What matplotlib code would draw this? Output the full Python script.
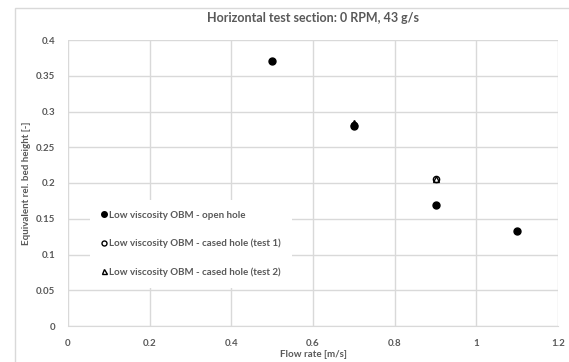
import matplotlib
matplotlib.use("Agg")
from matplotlib import pyplot as plt
from matplotlib.patches import Rectangle

# data
open_x = [0.5, 0.7, 0.9, 1.1]
open_y = [0.37, 0.28, 0.169, 0.133]
cased1_x = [0.7, 0.9]
cased1_y = [0.281, 0.206]
cased2_x = [0.7, 0.9]
cased2_y = [0.284, 0.205]

labels = ["Low viscosity OBM - open hole",
          "Low viscosity OBM - cased hole (test 1)",
          "Low viscosity OBM - cased hole (test 2)"]
x_ticks = [0, 0.2, 0.4, 0.6, 0.8, 1, 1.2]
y_ticks = [0, 0.05, 0.1, 0.15, 0.2, 0.25, 0.3, 0.35, 0.4]

plt.rcParams['font.family'] = ['Lato', 'DejaVu Sans']
text_col = '#595959'
grid_col = '#d9d9d9'

fig = plt.figure(figsize=(5.69, 3.62), dpi=100)
# outer chart frame
fig.patches.append(Rectangle((15 / 569, -0.01), 1.0, 1 - 8 / 362 + 0.01,
                             transform=fig.transFigure, fill=False,
                             edgecolor=grid_col, linewidth=1))
ax = fig.add_axes([68 / 569, 1 - 326 / 362, 490 / 569, 286 / 362])

ax.plot(open_x, open_y, 'o', color='black', markersize=5, label=labels[0],
        zorder=3)
ax.plot(cased1_x, cased1_y, 'o', markerfacecolor='none',
        markeredgecolor='black', markersize=4.5, markeredgewidth=1,
        label=labels[1], zorder=4)
ax.plot(cased2_x, cased2_y, '^', markerfacecolor='none',
        markeredgecolor='black', markersize=4.5, markeredgewidth=1,
        label=labels[2], zorder=4)

ax.set_xlim(0, 1.2)
ax.set_ylim(0, 0.4)
ax.set_xticks(x_ticks)
ax.set_xticklabels([str(t) for t in x_ticks])
ax.set_yticks(y_ticks)
ax.set_yticklabels([str(t) for t in y_ticks])
ax.grid(True, color=grid_col, linewidth=1)
ax.set_axisbelow(True)
for s in ['top', 'right', 'left']:
    ax.spines[s].set_visible(False)
ax.spines['bottom'].set_color(grid_col)
ax.tick_params(length=0, colors=text_col, labelsize=7, pad=9)
for lab in ax.get_xticklabels() + ax.get_yticklabels():
    lab.set_fontweight('bold')

ax.set_title("Horizontal test section: 0 RPM, 43 g/s", fontsize=9,
             fontweight='bold', color=text_col, pad=13)
ax.set_xlabel("Flow rate [m/s]", fontsize=7, fontweight='bold',
              color=text_col, labelpad=2)
ax.set_ylabel("Equivalent rel. bed height [-]", fontsize=7,
              fontweight='bold', color=text_col, labelpad=4)

leg = ax.legend(loc='upper left', bbox_to_anchor=(0.045, 0.44),
                borderaxespad=0, frameon=True, fancybox=False,
                handlelength=0.6, handletextpad=0.3, labelspacing=1.95,
                borderpad=1.1, markerscale=0.8,
                prop={'size': 7, 'weight': 'bold'})
leg.get_frame().set_facecolor('white')
leg.get_frame().set_edgecolor('none')
leg.get_frame().set_alpha(1)
for t in leg.get_texts():
    t.set_color(text_col)

plt.savefig("out.png", dpi=100)
